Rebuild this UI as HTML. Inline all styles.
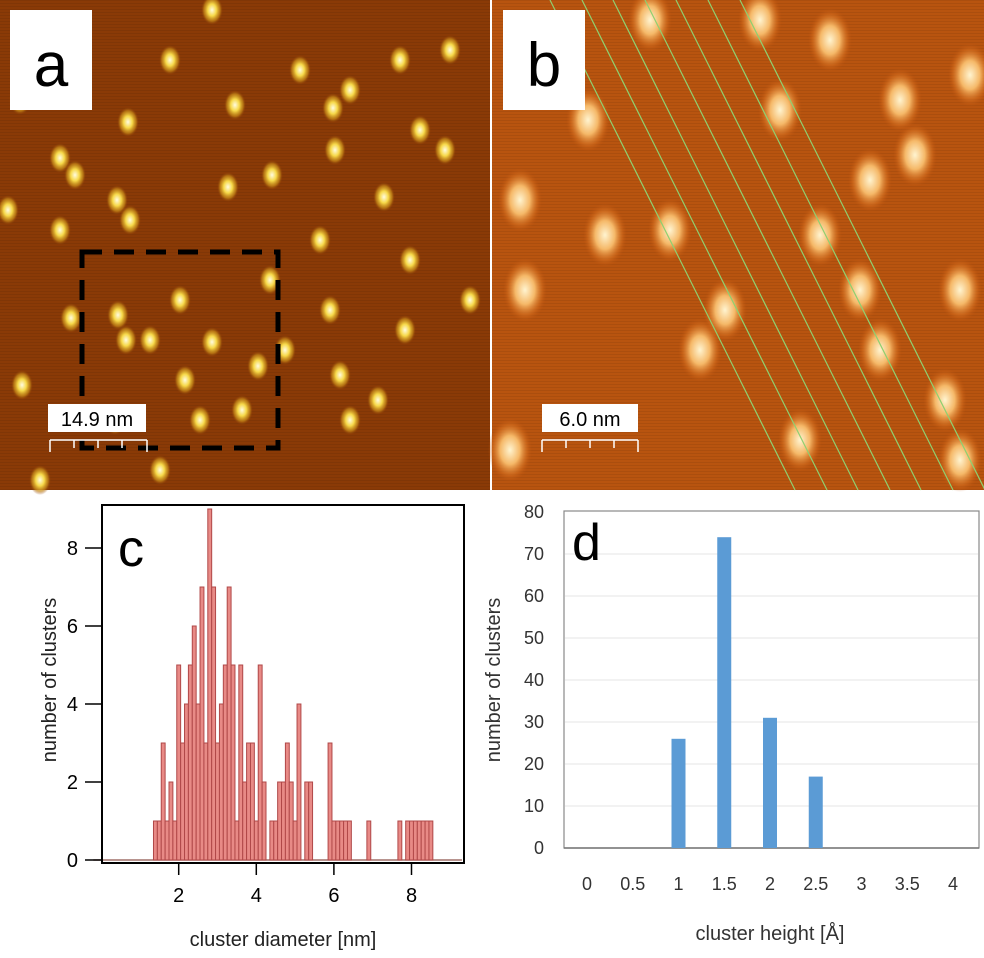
<!DOCTYPE html>
<html><head><meta charset="utf-8"><style>
body{margin:0;width:984px;height:958px;background:#fff;overflow:hidden;font-family:"Liberation Sans",sans-serif}
svg{position:absolute;left:0;top:0}
</style></head><body>
<svg width="984" height="958" viewBox="0 0 984 958">
<defs>
<radialGradient id="ga"><stop offset="0" stop-color="#fffbe0"/><stop offset="0.4" stop-color="#f6d848"/><stop offset="0.75" stop-color="#c88a18" stop-opacity="0.7"/><stop offset="1" stop-color="#8a3a05" stop-opacity="0"/></radialGradient>
<radialGradient id="gb"><stop offset="0" stop-color="#fff4d0"/><stop offset="0.45" stop-color="#f5b868"/><stop offset="0.8" stop-color="#d77020" stop-opacity="0.5"/><stop offset="1" stop-color="#bf5510" stop-opacity="0"/></radialGradient>
<pattern id="lines" width="4" height="3" patternUnits="userSpaceOnUse"><rect width="4" height="1" fill="#000" opacity="0.07"/></pattern>
</defs>
<g>
<rect x="0" y="0" width="490" height="490" fill="#8a3a06"/>
<rect x="0" y="0" width="490" height="490" fill="url(#lines)"/>
<g id="blobsA"></g>
<rect x="82" y="252" width="196" height="196" fill="none" stroke="#000" stroke-width="5" stroke-dasharray="20,12"/>
<rect x="10" y="10" width="82" height="100" fill="#fff"/>
<text x="51" y="86" font-size="62" text-anchor="middle">a</text>
<rect x="48" y="404" width="98" height="28" fill="#fff"/>
<text x="97" y="426" font-size="20" text-anchor="middle">14.9 nm</text>
<path d="M50 440H147M50 440v12M74 440v8M98 440v8M122 440v8M147 440v12" stroke="#fff" stroke-width="1.5" fill="none"/>
</g>
<g>
<rect x="492" y="0" width="492" height="490" fill="#b8540f"/>
<rect x="492" y="0" width="492" height="490" fill="url(#lines)"/>
<g id="blobsB"></g>
<g id="greenLines" stroke="#8fd070" stroke-width="1.2"></g>
<rect x="503" y="10" width="82" height="100" fill="#fff"/>
<text x="544" y="86" font-size="62" text-anchor="middle">b</text>
<rect x="542" y="404" width="96" height="28" fill="#fff"/>
<text x="590" y="426" font-size="20" text-anchor="middle">6.0 nm</text>
<path d="M542 440H638M542 440v12M566 440v8M590 440v8M614 440v8M638 440v12" stroke="#fff" stroke-width="1.5" fill="none"/>
</g>
<g id="chartC"></g>
<g id="chartD"></g>
</svg>
<script>
const NS='http://www.w3.org/2000/svg';
function mk(p,t,a){const e=document.createElementNS(NS,t);for(const k in a)e.setAttribute(k,a[k]);p.appendChild(e);return e;}
// STM blobs
const blobsAX=[235,350,212,128,60,75,117,8,130,333,335,272,228,384,420,22,71,118,126,150,212,270,405,340,258,200,115,242,445,410,378,320,60,180,285,350,170,300,450,20,400,185,330,470,40,160];
const blobsAY=[105,90,10,122,158,175,200,210,220,108,150,175,187,197,130,385,318,315,340,340,342,280,330,375,366,420,420,410,150,260,400,240,230,300,350,420,60,70,50,100,60,380,310,300,480,470];
const blobsBX=[588,605,670,525,520,820,870,915,970,960,700,880,800,510,960,760,830,900,860,725,650,945,780];
const blobsBY=[120,235,230,290,200,235,180,155,75,290,350,350,440,450,460,20,40,100,290,310,20,400,110];
const gA=document.getElementById('blobsA');
blobsAX.forEach((x,i)=>{const c=mk(gA,'ellipse',{cx:x,cy:blobsAY[i],rx:11,ry:15,fill:'url(#ga)'});

});
const gB=document.getElementById('blobsB');
blobsBX.forEach((x,i)=>{const c=mk(gB,'ellipse',{cx:x,cy:blobsBY[i],rx:22,ry:32,fill:'url(#gb)'});

});
const lineTop=[550,582,613,645,676,708,740];
const gl=document.getElementById('greenLines');
lineTop.forEach(x=>{const l=mk(gl,'line',{x1:x,y1:0,x2:x+245,y2:490});

});

// Chart c
const cStart=1.35, cBin=0.1;
const cCounts=[1,1,3,1,2,1,5,3,4,5,6,4,7,3,9,7,3,4,5,7,5,1,5,2,3,3,1,5,2,0,1,1,2,2,3,2,1,4,0,2,2,0,0,0,0,3,1,1,1,1,1,0,0,0,0,1,0,0,0,0,0,0,0,1,0,1,1,1,1,1,1,1];
const cYTicks=[0,2,4,6,8];
const cXTicks=[2,4,6,8];
const C=document.getElementById('chartC');
const cx=v=>178.7+(v-2)*38.8, cy=v=>860-v*39;
mk(C,'line',{x1:cx(-0.2),y1:cy(0),x2:cx(9.3),y2:cy(0),stroke:'#a0706a','stroke-width':1.5});
cCounts.forEach((v,i)=>{if(!v)return;const x0=cx(cStart+i*cBin),x1=cx(cStart+(i+1)*cBin);
const r=mk(C,'rect',{x:x0,y:cy(v),width:x1-x0,height:cy(0)-cy(v),fill:'#e88a86',stroke:'#b04848','stroke-width':1});

});
mk(C,'rect',{x:102,y:505,width:362,height:358,fill:'none',stroke:'#000','stroke-width':2});
cYTicks.forEach(t=>{mk(C,'line',{x1:85,y1:cy(t),x2:102,y2:cy(t),stroke:'#000','stroke-width':1.5});
const tx=mk(C,'text',{x:78,y:cy(t)+7,'font-size':20,'text-anchor':'end'});tx.textContent=t;

});
cXTicks.forEach(t=>{mk(C,'line',{x1:cx(t),y1:863,x2:cx(t),y2:875,stroke:'#000','stroke-width':1.5});
const tx=mk(C,'text',{x:cx(t),y:902,'font-size':20,'text-anchor':'middle'});tx.textContent=t;

});
let t=mk(C,'text',{x:283,y:946,'font-size':20,'text-anchor':'middle',fill:'#222'});t.textContent='cluster diameter [nm]';

t=mk(C,'text',{x:0,y:0,'font-size':20,'text-anchor':'middle',fill:'#222',transform:'translate(56,680) rotate(-90)'});t.textContent='number of clusters';

t=mk(C,'text',{x:118,y:566,'font-size':52});t.textContent='c';


// Chart d
const dCats=['0','0.5','1','1.5','2','2.5','3','3.5','4'];
const dVals=[0,0,26,74,31,17,0,0,0];
const dYTicks=[0,10,20,30,40,50,60,70,80];
const D=document.getElementById('chartD');
const dx=i=>587+i*45.75, dy=v=>848-v*4.2;
mk(D,'rect',{x:564,y:511,width:415,height:337,fill:'none',stroke:'#888','stroke-width':1.2});
dYTicks.forEach(v=>{if(v>0&&v<80)mk(D,'line',{x1:565,y1:dy(v),x2:978,y2:dy(v),stroke:'#e4e4e4','stroke-width':1});
const tx=mk(D,'text',{x:544,y:dy(v)+6,'font-size':18,'text-anchor':'end',fill:'#333'});tx.textContent=v;

});
mk(D,'line',{x1:564,y1:848,x2:979,y2:848,stroke:'#777','stroke-width':1.5});
dVals.forEach((v,i)=>{if(v>0){const r=mk(D,'rect',{x:dx(i)-7,y:dy(v),width:14,height:dy(0)-dy(v),fill:'#5b9bd5'});

}
const tx=mk(D,'text',{x:dx(i),y:890,'font-size':18,'text-anchor':'middle',fill:'#333'});tx.textContent=dCats[i];

});
t=mk(D,'text',{x:770,y:940,'font-size':20,'text-anchor':'middle',fill:'#333'});t.textContent='cluster height [Å]';

t=mk(D,'text',{x:0,y:0,'font-size':20,'text-anchor':'middle',fill:'#333',transform:'translate(500,680) rotate(-90)'});t.textContent='number of clusters';

t=mk(D,'text',{x:572,y:560,'font-size':52});t.textContent='d';

</script>
</body></html>
